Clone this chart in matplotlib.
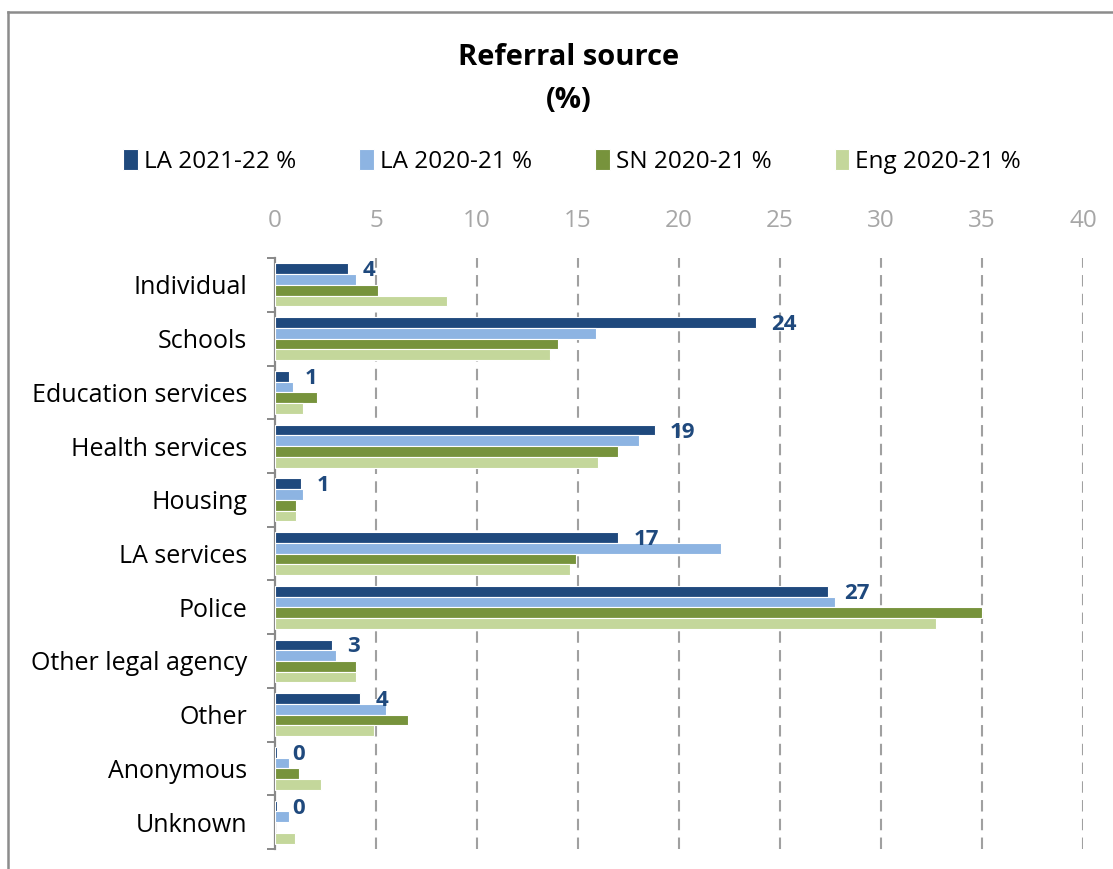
import numpy as np
import matplotlib
matplotlib.use("Agg")
from matplotlib import pyplot as plt
from matplotlib.lines import Line2D

plt.rcParams['font.family'] = ['Open Sans', 'DejaVu Sans']

categories = ["Individual", "Schools", "Education services", "Health services",
              "Housing", "LA services", "Police", "Other legal agency", "Other",
              "Anonymous", "Unknown"]
series_names = ["LA 2021-22 %", "LA 2020-21 %", "SN 2020-21 %", "Eng 2020-21 %"]
la_2122 = [3.6, 23.8, 0.7, 18.8, 1.3, 17.0, 27.4, 2.8, 4.2, 0.1, 0.08]
la_2021 = [4.0, 15.9, 0.9, 18.0, 1.4, 22.1, 27.7, 3.0, 5.5, 0.7, 0.7]
sn_2021 = [5.1, 14.0, 2.1, 17.0, 1.05, 14.9, 35.0, 4.0, 6.6, 1.2, 0.0]
eng_2021 = [8.5, 13.6, 1.4, 16.0, 1.05, 14.6, 32.7, 4.0, 4.9, 2.3, 1.0]
colors = ["#1F497D", "#8DB4E2", "#77933C", "#C4D79B"]

xticks = np.arange(0, 41, 5)

fig = plt.figure(figsize=(11.13, 8.69), dpi=100)
ax = fig.add_axes([0.2471, 0.023, 0.7259, 0.680])

y = np.arange(len(categories))
bh = 0.2
all_series = [la_2122, la_2021, sn_2021, eng_2021]
for i, (vals, col, name) in enumerate(zip(all_series, colors, series_names)):
    ax.barh(y + (i - 1.5) * bh, vals, height=bh, color=col, edgecolor="white",
            linewidth=0.8, label=name, zorder=3)

# value labels on the current year only
for yi, v in zip(y, la_2122):
    ax.annotate(f"{v:.0f}", xy=(v, yi - 1.5 * bh), xytext=(11, -1.5),
                textcoords="offset points", ha="left", va="center",
                fontsize=16, fontweight="bold", color="#1F497D", zorder=4)

ax.set_xlim(0, 40)
ax.set_ylim(len(categories) - 0.5, -0.5)
ax.xaxis.tick_top()
ax.set_xticks(xticks)
ax.tick_params(axis="x", length=0, pad=18, labelsize=17.5, labelcolor="#A6A6A6")
for xv in xticks[1:]:
    ax.axvline(xv, color="#A0A0A0", lw=1.5, linestyle=(0, (5.5, 3.5)), zorder=1)

ax.set_yticks(y)
ax.set_yticklabels(categories, fontsize=18)
ax.set_yticks(np.arange(-0.5, len(categories)), minor=True)
ax.tick_params(axis="y", which="major", length=0, pad=20)
ax.tick_params(axis="y", which="minor", length=6, width=1.4, color="#898989")

for s in ["top", "right", "bottom"]:
    ax.spines[s].set_visible(False)
ax.spines["left"].set_color("#898989")
ax.spines["left"].set_linewidth(1.6)

fig.text(0.511, 0.934, "Referral source", ha="center", va="center",
         fontsize=21, fontweight="bold")
fig.text(0.511, 0.884, "(%)", ha="center", va="center",
         fontsize=21, fontweight="bold")

fig.legend(loc="center", bbox_to_anchor=(0.514, 0.814), ncol=4, frameon=False,
           fontsize=17.5, handlelength=0.6, handleheight=0.9, handletextpad=0.25,
           columnspacing=2.6)

# outer frame on the left and top edges
fig.add_artist(Line2D([0.0072, 0.0072], [0, 0.986], transform=fig.transFigure,
                      color="#8C8C8C", lw=1.8))
fig.add_artist(Line2D([0.0072, 1.0], [0.986, 0.986], transform=fig.transFigure,
                      color="#8C8C8C", lw=1.8))

fig.savefig("out.png", dpi=100)
